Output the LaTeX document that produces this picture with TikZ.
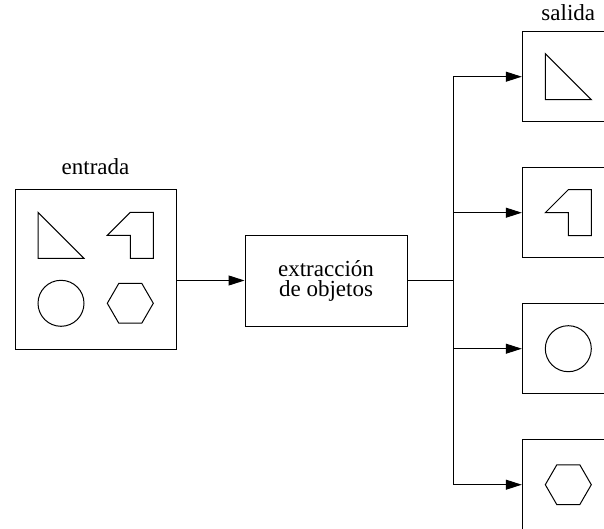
\documentclass[tikz,border=0pt]{standalone}
\usepackage{fontspec}
\setmainfont{Liberation Serif}
\usetikzlibrary{arrows.meta, positioning}
\tikzset{
    caja/.style={
        rectangle, draw=black, line width=0.5pt, inner sep=0pt, align=center
    },
    caja_entrada/.style={caja, minimum width=80.5pt, minimum height=79.5pt},
    caja_proceso/.style={
        caja, minimum width=81pt, minimum height=45.5pt,
        font=\fontsize{11.5}{10}\selectfont
    },
    caja_salida/.style={caja, minimum width=46pt, minimum height=45pt},
    rotulo/.style={inner sep=0pt},
    flecha/.style={-{Triangle[length=8pt, width=5pt]}, line width=0.5pt, draw=black},
    linea/.style={line width=0.5pt, draw=black},
    figura/.style={line width=0.5pt, draw=black},
    % piezas dibujadas dentro de las cajas
    triangulo/.pic={\draw[figura] (-23,-23) -- (-23,23) -- (23,23) -- cycle;},
    escuadra/.pic={\draw[figura] (-23,0) -- (0,-23) -- (23,-23) -- (23,23) -- (0,23) -- (0,0) -- cycle;},
    circulo/.pic={\draw[figura] (0,0) circle[radius=11.5pt];},
    hexagono/.pic={\draw[figura] (23,0) -- (11.5,19.9) -- (-11.5,19.9) -- (-23,0) -- (-11.5,-19.9) -- (11.5,-19.9) -- cycle;}
}

\begin{document}
\begin{tikzpicture}[x=0.5pt, y=-0.5pt, font=\fontsize{11.5}{13}\selectfont]
\useasboundingbox (0,0) rectangle (604,529);
\clip (0,0) rectangle (604,529);

% entrada
\node[caja_entrada, label={[rotulo, label distance=7pt]above:entrada}] (entrada) at (95.5,269.5) {};
\pic at (61,235.3) {triangulo};
\pic at (130.3,235.3) {escuadra};
\pic at (61,303.3) {circulo};
\pic at (130.3,303.3) {hexagono};

% proceso
\node[caja_proceso] (extraccion) at (326,280.5) {extracción\\de objetos};
\coordinate (reparto) at (453.3,280.5);

% salidas
\node[caja_salida, label={[rotulo, label distance=5pt]above:salida}] (salida1) at (568.3,76.7) {};
\node[caja_salida] (salida2) at (568.3,212.7) {};
\node[caja_salida] (salida3) at (568.3,348.7) {};
\node[caja_salida] (salida4) at (568.3,484.7) {};
\pic at (568.3,76.7) {triangulo};
\pic at (568.3,212.7) {escuadra};
\pic at (568.3,348.7) {circulo};
\pic at (568.3,484.7) {hexagono};

\draw[flecha] (entrada.east |- extraccion) -- (extraccion);
\draw[linea] (extraccion) -- (reparto);
\draw[flecha] (reparto) |- (salida1);
\draw[flecha] (reparto) |- (salida2);
\draw[flecha] (reparto) |- (salida3);
\draw[flecha] (reparto) |- (salida4);
\end{tikzpicture}
\end{document}
